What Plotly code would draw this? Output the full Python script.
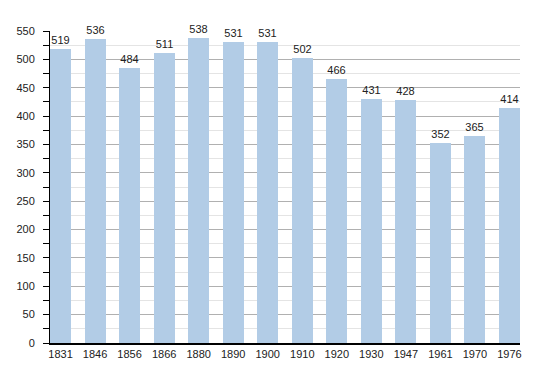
import plotly.graph_objects as go

years = ["1831", "1846", "1856", "1866", "1880", "1890", "1900", "1910", "1920", "1930", "1947", "1961", "1970", "1976"]
population = [519, 536, 484, 511, 538, 531, 531, 502, 466, 431, 428, 352, 365, 414]

fig = go.Figure(go.Bar(
    x=years, y=population,
    width=0.61,
    marker=dict(color="#b2cce6", line=dict(width=0)),
    text=[str(v) for v in population],
    textposition="outside",
    textfont=dict(size=11, color="#222", family="Liberation Sans, Arial, sans-serif"),
    cliponaxis=False,
))

fig.update_layout(
    width=550, height=373,
    margin=dict(l=42, r=38, t=23, b=38),
    plot_bgcolor="white", paper_bgcolor="white",
    font=dict(family="Liberation Sans, Arial, sans-serif", size=11, color="#222"),
    showlegend=False,
    bargap=0,
)
fig.update_xaxes(
    type="category", range=[-0.305, 13.305], automargin=False,
    showline=True, linecolor="#000", linewidth=1.5,
    ticks="", showgrid=False, tickfont=dict(size=11, color="#222"),
)
fig.update_yaxes(
    range=[0, 550], dtick=50, tick0=0, automargin=False,
    showline=True, linecolor="#000", linewidth=1,
    ticks="outside", ticklen=6, tickcolor="#000",
    ticklabelstandoff=6,
    gridcolor="#b0b0b0", gridwidth=1,
    zeroline=False,
    tickfont=dict(size=11, color="#222"),
    minor=dict(dtick=25, tick0=0, showgrid=True, gridcolor="#e4e4e4", ticks="outside", ticklen=6, tickcolor="#000"),
)

fig.write_html("out.html")
